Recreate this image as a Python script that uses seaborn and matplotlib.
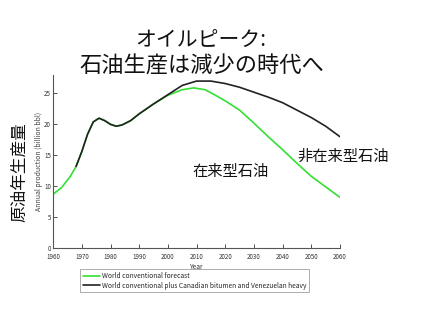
import matplotlib
matplotlib.use("Agg")
import matplotlib.pyplot as plt
import seaborn as sns
import pandas as pd

# Data
years_conv = [1960, 1963, 1966, 1968, 1970, 1972, 1974, 1976, 1978, 1980, 1982, 1984,
              1987, 1990, 1995, 2000, 2005, 2009, 2013, 2017, 2020, 2025, 2030,
              2035, 2040, 2045, 2050, 2055, 2060]
conv = [8.7, 9.8, 11.6, 13.2, 15.6, 18.4, 20.4, 21.0, 20.6, 20.0, 19.7, 19.9,
        20.6, 21.7, 23.3, 24.7, 25.6, 25.9, 25.6, 24.6, 23.8, 22.3, 20.2,
        18.0, 15.9, 13.7, 11.6, 9.9, 8.2]
years_plus = [1968, 1970, 1972, 1974, 1976, 1978, 1980, 1982, 1984, 1987, 1990, 1995,
              2000, 2005, 2010, 2015, 2020, 2025, 2030, 2035, 2040, 2045, 2050,
              2055, 2060]
plus = [13.2, 15.6, 18.4, 20.4, 21.0, 20.6, 20.0, 19.7, 19.9, 20.6, 21.7, 23.3,
        24.8, 26.3, 27.0, 27.0, 26.6, 26.0, 25.2, 24.4, 23.5, 22.3, 21.1,
        19.7, 18.0]
xticks = [1960, 1970, 1980, 1990, 2000, 2010, 2020, 2030, 2040, 2050, 2060]
yticks = [0, 5, 10, 15, 20, 25]
label_conv = "World conventional forecast"
label_plus = "World conventional plus Canadian bitumen and Venezuelan heavy"

sns.set_theme(style="white")
plt.rcParams['font.family'] = ['Noto Sans CJK JP', 'DejaVu Sans']

fig = plt.figure(figsize=(4.25, 3.16), dpi=100)
ax = fig.add_axes([0.125, 0.215, 0.675, 0.548])

df_c = pd.DataFrame({"Year": years_conv, "v": conv})
df_p = pd.DataFrame({"Year": years_plus, "v": plus})
sns.lineplot(data=df_c, x="Year", y="v", ax=ax, color="#33e033", lw=1.2, label=label_conv)
sns.lineplot(data=df_p, x="Year", y="v", ax=ax, color="#222222", lw=1.2, label=label_plus)

ax.set_xlim(1960, 2060)
ax.set_ylim(0, 28)
ax.set_xticks(xticks)
ax.set_yticks(yticks)
ax.tick_params(axis='both', direction='in', length=3, width=0.6, labelsize=4.5,
               colors='#333333', bottom=True, left=True)
ax.tick_params(axis='x', pad=3.2)
ax.tick_params(axis='y', pad=1.5)
for s in ['top', 'right']:
    ax.spines[s].set_visible(False)
for s in ['left', 'bottom']:
    ax.spines[s].set_color('#555555')
    ax.spines[s].set_linewidth(0.8)

ax.set_xlabel("Year", fontsize=4.8, color='#333333', labelpad=1.5)
ax.set_ylabel("Annual production (billion bbl)", fontsize=5, color='#444444', labelpad=0.5)

fig.text(0.047, 0.456, "原油年生産量", rotation=90, fontsize=12, ha='center', va='center',
         color='#111111')

ax.text(2022, 12.4, "在来型石油", fontsize=11, ha='center', va='center', color='#111111')
ax.text(2061, 14.9, "非在来型石油", fontsize=11, ha='center', va='center', color='#111111',
        clip_on=False)

fig.text(0.472, 0.870, "オイルピーク:", fontsize=15, ha='center', va='center', color='#111111')
fig.text(0.474, 0.791, "石油生産は減少の時代へ", fontsize=16, ha='center', va='center', color='#111111')

leg = ax.legend(loc='upper left', bbox_to_anchor=(0.181, 0.158), bbox_transform=fig.transFigure,
                fontsize=4.8, frameon=True, fancybox=False, handlelength=2.5,
                borderpad=0.4, labelspacing=0.25, handletextpad=0.3)
leg.get_frame().set_edgecolor('#888888')
leg.get_frame().set_linewidth(0.6)

fig.savefig("out.png", dpi=100, facecolor='white')
